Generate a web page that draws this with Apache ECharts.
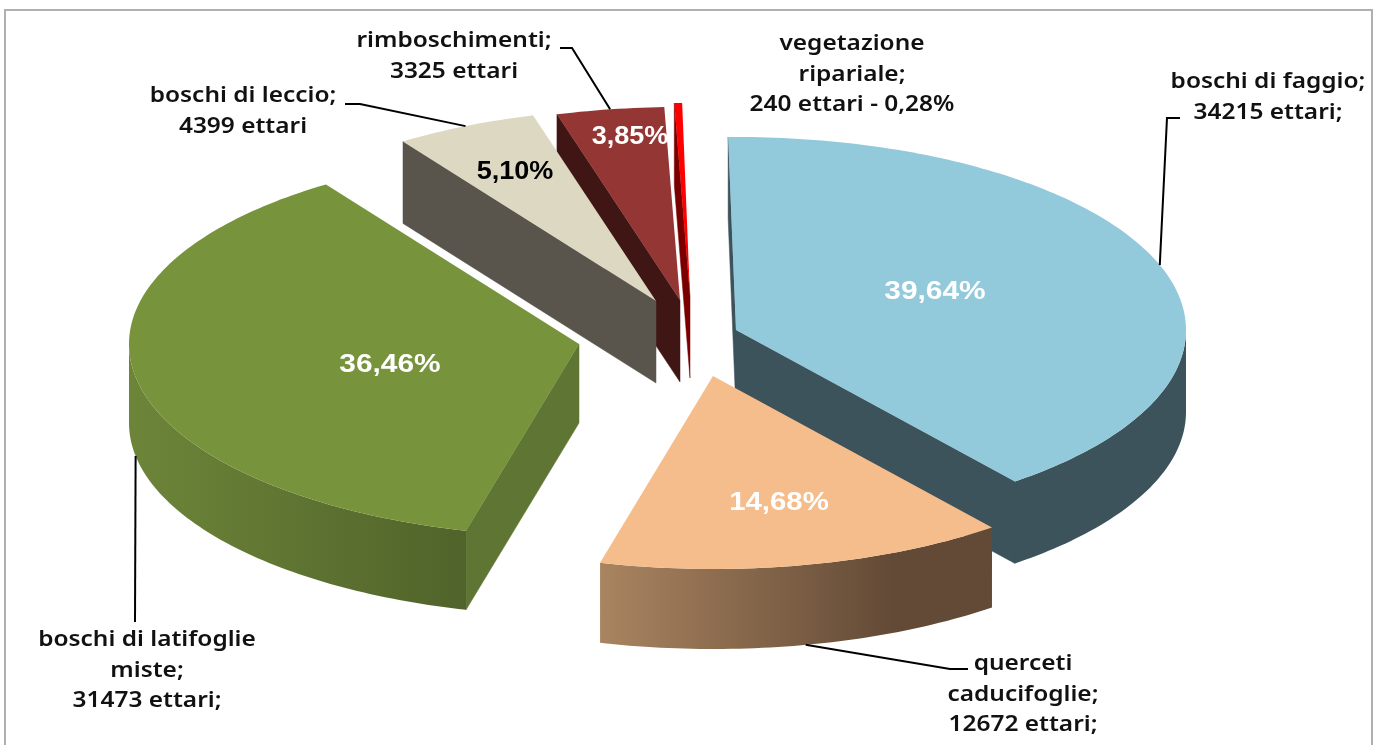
<!DOCTYPE html>
<html><head><meta charset="utf-8">
<style>html,body{margin:0;padding:0;background:#fff}#c{width:1377px;height:745px}</style>
<script src="https://cdn.jsdelivr.net/npm/echarts@6/dist/echarts.min.js"></script>
</head><body><div id="c"></div>
<script>
// ---- data (pie order, clockwise from the top)
const categories = ['boschi di faggio','querceti caducifoglie','boschi di latifoglie miste','boschi di leccio','rimboschimenti','vegetazione ripariale'];
const hectares = [34215,12672,31473,4399,3325,240];
const labelLines = [
  ['boschi di faggio;','34215 ettari;'],
  ['querceti','caducifoglie;','12672 ettari;'],
  ['boschi di latifoglie','miste;','31473 ettari;'],
  ['boschi di leccio;','4399 ettari'],
  ['rimboschimenti;','3325 ettari'],
  ['vegetazione','ripariale;','240 ettari - 0,28%']
];
// ---- layout and style, indexed like the data
const total = hectares.reduce((a,b)=>a+b,0);
const startAngle = -1, RX = 450, RY = 193;
const depth = [82,80,79,82,82,82];
const apex = [[736,330],[713,376],[579,344],[656,301],[680,300],[690,296]];
const topColor = ['#92c9db','#f6bd8c','#77933c','#dcd8c2','#943634','#ff0000'];
const wallColor = ['#3d535b','#654a36','#5f7533','#59554d','#3f1614','#7a0000'];
const sideStops = [
  ['#3d535b','#3d535b'],['#a98460','#634a36'],['#6d8539','#50632a'],
  ['#59554d','#59554d'],['#3f1614','#3f1614'],['#7a0000','#7a0000']
];
const pctPos = [[935,292],[779,503],[390,365],[515,172],[630,137],null];
const pctColor = ['#fff','#fff','#fff','#000','#fff',null];
const pctStretch = [1.15,1.13,1.15,1.04,1.04,1];
const labelPos = [[1268,82],[1023,664],[147,640],[243,96],[454,41],[852,44]];
const leaderRest = [[[1167,118],[1180,118]],[[950,669],[968,669]],[[135,622]],[[360,104],[345,104]],[[572,48],[560,48]],null];
const leaderOnSide = [false,true,true,false,false,false];
const drawOrder = [5,4,3,0,2,1];
const lineGap = 30.5;
const labelStretch = 1.11;

// angles derived from the values
const angles = []; let acc = startAngle;
hectares.forEach(v=>{const s=v/total*360; angles.push([acc,acc+s]); acc+=s;});
const rad = d=>d*Math.PI/180;
const rim = (i,a,dz)=>[apex[i][0]+RX*Math.sin(rad(a)), apex[i][1]-RY*Math.cos(rad(a))+(dz||0)];

function renderSlice(params, api){
  const i = api.value(0);
  const [a0,a1] = angles[i];
  const P = p=>api.coord(p);
  const kids = [];
  const D = depth[i];
  const low = [apex[i][0],apex[i][1]+D];
  const wall = a=>({type:'polygon',shape:{points:[apex[i],rim(i,a),rim(i,a,D),low].map(P)},style:{fill:wallColor[i],stroke:wallColor[i],lineWidth:.5}});
  if(Math.sin(rad(a0))<0) kids.push(wall(a0));
  if(Math.sin(rad(a1))>0) kids.push(wall(a1));
  const s0=Math.max(a0,90), s1=Math.min(a1,270);
  if(s1>s0){
    const up=[],dn=[];
    for(let a=s0;;a+=1){const t=Math.min(a,s1);up.push(rim(i,t));dn.unshift(rim(i,t,D));if(t>=s1)break;}
    kids.push({type:'polygon',shape:{points:up.concat(dn).map(P)},
      style:{fill:new echarts.graphic.LinearGradient(0,0,1,0,[{offset:0,color:sideStops[i][0]},{offset:i===1?.75:1,color:sideStops[i][1]},{offset:1,color:sideStops[i][1]}])}});
  }
  const top=[apex[i]];
  for(let a=a0;;a+=1){const t=Math.min(a,a1);top.push(rim(i,t));if(t>=a1)break;}
  kids.push({type:'polygon',shape:{points:top.map(P)},style:{fill:topColor[i]}});
  return {type:'group',children:kids};
}

function renderText(params, api){
  const i = api.value(0);
  const P = p=>api.coord(p);
  const kids=[];
  if(leaderRest[i]){
    const mid=(angles[i][0]+angles[i][1])/2;
    const pts=[rim(i,mid,leaderOnSide[i]?depth[i]:0)].concat(leaderRest[i]).map(P);
    kids.push({type:'polyline',shape:{points:pts},style:{fill:'none',stroke:'#000',lineWidth:2}});
  }
  labelLines[i].forEach((t,k)=>{
    const p=P([labelPos[i][0],labelPos[i][1]+k*lineGap]);
    kids.push({type:'text',x:p[0],y:p[1],scaleX:labelStretch,style:{text:t,fill:'#111',align:'center',verticalAlign:'middle',
      font:'600 22px "Noto Sans", sans-serif'}});
  });
  if(pctPos[i]){
    const p=P(pctPos[i]);
    const pct=(hectares[i]/total*100).toFixed(2).replace('.',',')+'%';
    kids.push({type:'text',x:p[0],y:p[1],scaleX:pctStretch[i],style:{text:pct,fill:pctColor[i],align:'center',verticalAlign:'middle',
      font:'bold 26px "Liberation Sans", sans-serif'}});
  }
  return {type:'group',children:kids};
}

const chart = echarts.init(document.getElementById('c'));
chart.setOption({
  animation:false,
  backgroundColor:'#fff',
  grid:{left:0,right:0,top:0,bottom:0},
  xAxis:{type:'value',min:0,max:1377,show:false},
  yAxis:{type:'value',min:0,max:745,inverse:true,show:false},
  graphic:[{type:'rect',shape:{x:5,y:10,width:1367,height:770},style:{fill:'none',stroke:'#b0b0b0',lineWidth:2},z:-1}],
  series:[
    {type:'custom',name:'slices',coordinateSystem:'cartesian2d',clip:false,z:2,renderItem:renderSlice,
      encode:{x:0,y:1},data:drawOrder.map(i=>[i,hectares[i],categories[i]])},
    {type:'custom',name:'labels',coordinateSystem:'cartesian2d',clip:false,z:3,renderItem:renderText,
      encode:{x:0,y:1},data:drawOrder.map(i=>[i,hectares[i],categories[i]])}
  ]
});
</script></body></html>
